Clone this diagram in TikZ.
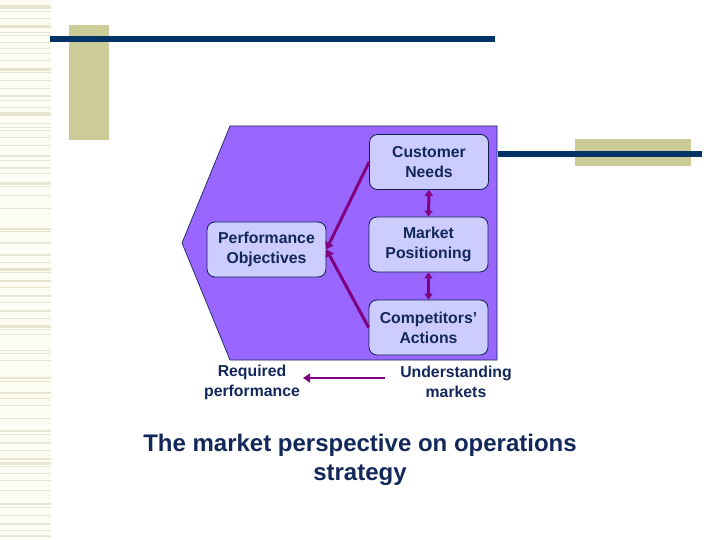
\documentclass[tikz,border=0pt]{standalone}
\usepackage{fontspec}
\setmainfont{Liberation Sans}
\usetikzlibrary{arrows.meta,calc}
\definecolor{navy}{HTML}{003366}
\definecolor{khaki}{HTML}{CCCC99}
\definecolor{shapefill}{HTML}{9966FF}
\definecolor{boxfill}{HTML}{CCCCFF}
\definecolor{txt}{HTML}{13285A}
\definecolor{arr}{HTML}{800080}
\definecolor{cream}{HTML}{FDFDF4}
\definecolor{stripe}{HTML}{E6E6D2}
\tikzset{
  boxnode/.style={draw=txt!80!black, line width=0.8pt, fill=boxfill, rounded corners=8pt,
    minimum width=119pt, minimum height=55pt, align=center, text=txt,
    font=\bfseries\fontsize{15.8}{20}\selectfont},
  lbl/.style={align=center, text=txt, inner sep=0pt, font=\bfseries\fontsize{15.8}{20}\selectfont},
  conn/.style={draw=arr, line width=3pt, -{Triangle[length=7pt,width=9pt]}},
  dconn/.style={draw=arr, line width=3pt, {Triangle[length=6pt,width=8pt]}-{Triangle[length=6pt,width=8pt]}},
}
\begin{document}
\begin{tikzpicture}[x=1pt,y=-1pt]
\useasboundingbox (0,0) rectangle (720,540);
\fill[white] (0,0) rectangle (720,540);
% left stripe band
\fill[cream] (0,0) rectangle (51,540);
\foreach \y/\h in {5/3,8/1,11/1,18/1.5,25/3,32/1.5,35/1,42/1.5,48/1,53/1.5,60/1,68/3,72/1,80/1.5,88/1,95/2,100/1,107/1.5,112/3,115/1,123/1.5,127/1,130/1,137/1.5,145/1,
  155/2,160/1,167/2,173/1,182/3,186/1,195/1,208/1,228/2,231/1,242/2,254/1.5,262/1,268/3,272/1,280/2,287/1,295/1.5,302/1,310/1.5,318/1,325/3,329/1,334/1,350/1,353/1,360/1,377/2,381/1,392/2,398/1,405/1,418/1,430/2,434/1,442/1.5,450/1,458/1.5,462/3,466/1,473/1,480/1,490/1,503/2,507/1,515/1,523/1.5,530/1,535/2}
  \fill[stripe] (0,\y) rectangle (51,\y+\h);
% top decoration
\fill[khaki] (69,25) rectangle (109,140);
\fill[navy] (50,36) rectangle (495,42);
% main shape
\filldraw[fill=shapefill, draw=txt, line width=0.7pt] (230,126) -- (497,126) -- (497,360) -- (230,360) -- (182,243) -- cycle;
% right decoration
\fill[khaki] (575,139) rectangle (691,166);
\fill[navy] (498,151) rectangle (702,157);
% boxes
\node[boxnode] (cn) at (429,162) {Customer\\Needs};
\node[boxnode] (mp) at (428.5,244.5) {Market\\Positioning};
\node[boxnode] (ca) at (428.5,327.5) {Competitors’\\Actions};
\node[boxnode] (po) at (266.5,249.5) {Performance\\Objectives};
% connectors
\draw[conn] (cn.west) -- (po.east);
\draw[conn] (ca.west) -- (po.east);
\draw[dconn] (cn.south) -- (mp.north);
\draw[dconn] (mp.south) -- (ca.north);
% bottom labels
\node[lbl] (req) at (252,382) {Required\\performance};
\node[lbl] (und) at (456,382) {Understanding\\markets};
\draw[conn, line width=2.5pt, shorten <=15pt, shorten >=3pt] ([yshift=4pt]und.west) -- ([yshift=4pt]req.east);
% title
\node[align=center, text=txt, font=\bfseries\fontsize{24}{29}\selectfont] (title) at (360,460) {The market perspective on operations\\strategy};
\end{tikzpicture}
\end{document}
